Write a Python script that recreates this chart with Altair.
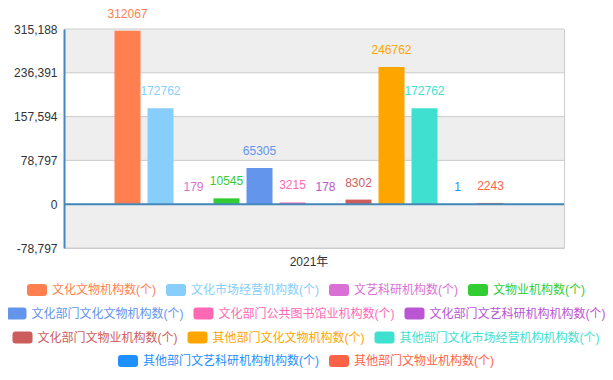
import altair as alt
import pandas as pd

# ---------------- data ----------------
year = "2021年"
series = [
    "文化文物机构数(个)", "文化市场经营机构数(个)", "文艺科研机构数(个)", "文物业机构数(个)",
    "文化部门文化文物机构数(个)", "文化部门公共图书馆业机构数(个)", "文化部门文艺科研机构机构数(个)",
    "文化部门文物业机构数(个)", "其他部门文化文物机构数(个)", "其他部门文化市场经营机构机构数(个)",
    "其他部门文艺科研机构机构数(个)", "其他部门文物业机构数(个)",
]
values = [312067, 172762, 179, 10545, 65305, 3215, 178, 8302, 246762, 172762, 1, 2243]
colors = ["#ff7f50", "#87cefa", "#da70d6", "#32cd32", "#6495ed", "#ff69b4",
          "#ba55d3", "#cd5c5c", "#ffa500", "#40e0d0", "#1e90ff", "#ff6347"]
y_ticks = [-78797, 0, 78797, 157594, 236391, 315188]
legend_rows = [4, 3, 3, 2]

# ---------------- style ----------------
FONT = "Liberation Sans, Noto Sans CJK SC, sans-serif"
AXIS_BLUE = "#4488bb"
W, H = 500, 219
ROW_Y = [251, 274.5, 298.5, 322]
SYMBOL = ("M-0.7,-0.6 L0.7,-0.6 Q1,-0.6 1,-0.3 L1,0.3 Q1,0.6 0.7,0.6 "
          "L-0.7,0.6 Q-1,0.6 -1,0.3 L-1,-0.3 Q-1,-0.6 -0.7,-0.6 Z")

df = pd.DataFrame({"year": year, "series": series, "value": values})

y_scale = alt.Scale(domain=[y_ticks[0], y_ticks[-1]], nice=False, zero=False)
y_axis = alt.Axis(values=y_ticks, format=",d", grid=False, ticks=False, zindex=1,
                  labelExpr="replace(datum.label, '\u2212', '-')",
                  domain=True, domainColor=AXIS_BLUE, domainWidth=2, labelPadding=7,
                  labelFontSize=12, labelColor="#333", labelFont=FONT, title=None)
x_enc = alt.X("year:N", title=None,
              scale=alt.Scale(paddingInner=0, paddingOuter=0.1313, align=0.452),
              axis=alt.Axis(domain=False, ticks=False, labelPadding=8,
                            labelFontSize=12, labelColor="#333", labelFont=FONT,
                            labelAngle=0))
xoff_enc = alt.XOffset("series:N", sort=series,
                       scale=alt.Scale(domain=series, paddingInner=0.212, paddingOuter=0.106))


def y_enc(field):
    return alt.Y(field, scale=y_scale, axis=y_axis)


def text_width(s):
    return sum(4 if ch in "()" else 12 for ch in s)


def make_legend(names, cols, row):
    total = sum(20 + 5 + text_width(n) for n in names) + 10 * (len(names) - 1)
    lx = 306 - total / 2 - 64
    expr = ("[" + ",".join(f"'{c}'" for c in cols) + "][indexof(["
            + ",".join(f"'{n}'" for n in names) + "], datum.value)]")
    return alt.Legend(orient="none", legendX=lx, legendY=ROW_Y[row], direction="horizontal",
                      columns=len(names), title=None, symbolType=SYMBOL, symbolSize=400,
                      symbolStrokeWidth=0, symbolOpacity=1, labelOffset=5, columnPadding=10,
                      labelFontSize=12, labelFont=FONT, labelLimit=400,
                      labelColor=alt.ExprRef(expr), padding=0)


# background bands and grid
bands = pd.DataFrame({"lo": y_ticks[:-1], "hi": y_ticks[1:]}).iloc[::2]
band_layer = alt.Chart(bands).mark_rect(color="#eeeeee").encode(
    y=y_enc("lo:Q"), y2="hi:Q",
    x=alt.value(0), x2=alt.value("width"),
)
grid_layer = alt.Chart(pd.DataFrame({"t": y_ticks})).mark_rule(color="#cccccc", strokeWidth=1).encode(
    y=y_enc("t:Q"),
    x=alt.value(0), x2=alt.value("width"),
)

groups = []
start = 0
for r, n in enumerate(legend_rows):
    names = series[start:start + n]
    cols = colors[start:start + n]
    sub = df[df["series"].isin(names)]
    cscale = alt.Scale(domain=names, range=cols)
    bars = alt.Chart(sub).mark_bar().encode(
        x=x_enc, xOffset=xoff_enc,
        y=y_enc("value:Q"),
        color=alt.Color("series:N", scale=cscale, legend=make_legend(names, cols, r)),
    )
    labels = alt.Chart(sub).mark_text(dy=-17, fontSize=12, font=FONT, baseline="middle").encode(
        x=x_enc, xOffset=xoff_enc,
        y=y_enc("value:Q"),
        text=alt.Text("value:Q", format="d"),
        color=alt.Color("series:N", scale=cscale, legend=make_legend(names, cols, r)),
    )
    groups.append(alt.layer(bars, labels))
    start += n

zero_layer = alt.Chart(pd.DataFrame({"z": [0]})).mark_rule(color=AXIS_BLUE, strokeWidth=2).encode(
    y=y_enc("z:Q"),
    x=alt.value(0), x2=alt.value("width"),
)

chart = alt.layer(band_layer, grid_layer, *groups, zero_layer).resolve_scale(
    color="independent"
).properties(
    width=W, height=H,
    autosize=alt.AutoSizeParams(type="none"),
    padding={"left": 56, "top": 21, "right": 41, "bottom": 132},
    background="white",
).configure_view(stroke="#cccccc", strokeWidth=1)

chart.save("out.html", embed_options={"renderer": "svg", "actions": False})
